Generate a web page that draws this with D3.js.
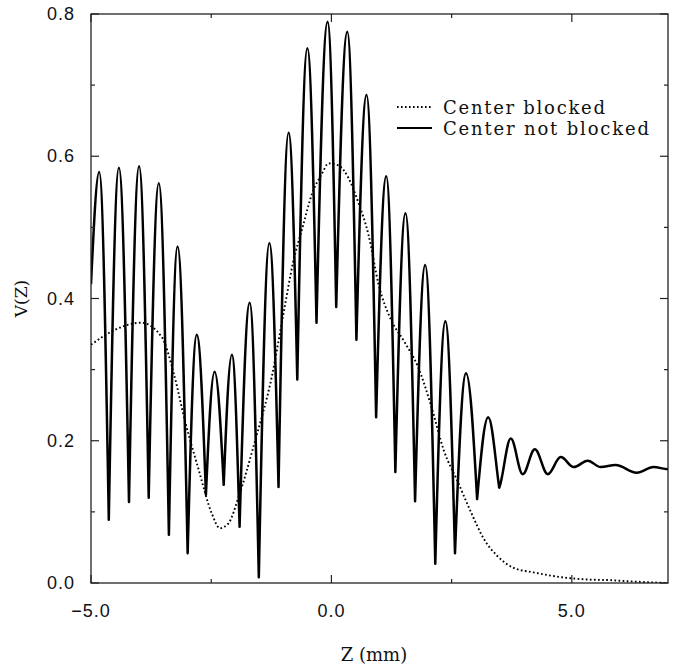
<!DOCTYPE html>
<html>
<head>
<meta charset="utf-8">
<script src="https://cdn.jsdelivr.net/npm/d3@7"></script>
<style>
  html, body { margin: 0; padding: 0; background: #fff; }
  svg { display: block; }
</style>
</head>
<body>
<svg id="chart" width="676" height="670"></svg>
<script>
// ---------------- data ----------------
// "Center not blocked" : extrema of V(z)
const solidZ = [-5.00, -4.83, -4.63, -4.42, -4.21, -4.00, -3.80, -3.59, -3.38, -3.20, -2.99,
  -2.80, -2.61, -2.43, -2.24, -2.07, -1.91, -1.70, -1.51, -1.29, -1.10, -0.89, -0.71, -0.50,
  -0.31, -0.08, 0.10, 0.33, 0.52, 0.73, 0.93, 1.14, 1.33, 1.54, 1.74, 1.95, 2.16, 2.37, 2.57,
  2.80, 3.03, 3.26, 3.49, 3.73, 3.98, 4.23, 4.50, 4.77, 5.04, 5.33, 5.60, 5.91, 6.35, 6.70, 7.00];
const solidV = [0.42, 0.578, 0.089, 0.584, 0.114, 0.586, 0.120, 0.562, 0.068, 0.473, 0.042,
  0.349, 0.124, 0.297, 0.138, 0.321, 0.079, 0.394, 0.008, 0.478, 0.135, 0.633, 0.286, 0.752,
  0.366, 0.789, 0.388, 0.775, 0.342, 0.686, 0.233, 0.572, 0.156, 0.520, 0.115, 0.447, 0.027, 0.368, 0.042,
  0.295, 0.118, 0.233, 0.134, 0.203, 0.153, 0.188, 0.153, 0.177, 0.163, 0.172, 0.163, 0.166, 0.155, 0.163, 0.160];

// "Center blocked"
const dottedZ = [-5.00, -4.50, -3.96, -3.53, -3.28, -3.05, -2.76, -2.49, -2.32, -2.14, -1.93,
  -1.60, -1.24, -0.98, -0.80, -0.60, -0.40, -0.20, -0.06, 0.15, 0.35, 0.56, 0.77, 0.98, 1.24,
  1.51, 1.80, 2.07, 2.34, 2.63, 2.90, 3.17, 3.45, 3.80, 4.20, 4.80, 5.30, 5.80, 6.30, 7.00];
const dottedV = [0.335, 0.356, 0.366, 0.346, 0.295, 0.229, 0.159, 0.098, 0.077, 0.084, 0.121,
  0.197, 0.290, 0.385, 0.450, 0.500, 0.548, 0.575, 0.590, 0.587, 0.570, 0.535, 0.490, 0.420, 0.370,
  0.340, 0.304, 0.250, 0.186, 0.142, 0.100, 0.062, 0.038, 0.021, 0.015, 0.008, 0.005, 0.004, 0.002, 0.000];

const xMajorTicks = [-5, 0, 5];
const xMinorTicks = [-2.5, 2.5];
const xTickLabels = ["\u22125.0", "0.0", "5.0"];
const yMajorTicks = [0, 0.2, 0.4, 0.6, 0.8];
const yMinorTicks = [0.1, 0.3, 0.5, 0.7];
const yTickLabels = ["0.0", "0.2", "0.4", "0.6", "0.8"];
const legendLabels = ["Center blocked", "Center not blocked"];
const xTitle = "Z (mm)";
const yTitle = "V(Z)";

// ---------------- layout ----------------
const svg = d3.select("#chart");
const L = 91, R = 668, T = 14, B = 583;
const x = d3.scaleLinear().domain([-5, 7]).range([L, R]);
const y = d3.scaleLinear().domain([0, 0.8]).range([B, T]);

// custom curve: sharp (|sin|-like) troughs, rounded peaks; sinusoidal for shallow oscillations
function peakCurve(context) {
  let pts = [];
  const base = y(0);
  return {
    areaStart() {}, areaEnd() {},
    lineStart() { pts = []; },
    point(px, py) { pts.push([+px, +py]); },
    lineEnd() {
      if (!pts.length) return;
      context.moveTo(pts[0][0], pts[0][1]);
      for (let i = 1; i < pts.length; i++) {
        const a = pts[i - 1], b = pts[i];
        const dx = b[0] - a[0], dy = b[1] - a[1];
        const rising = a[1] > b[1];
        const tr = rising ? a : b, pk = rising ? b : a;
        const ratio = (base - tr[1]) / Math.max(1, base - pk[1]);
        const t = Math.max(0, Math.min(1, (ratio - 0.5) / 0.25));
        const fx = 0.33 * (1 - t) + 0.3642 * t;
        const fy = 0.52 * (1 - t);
        const gx = 0.36 * (1 - t) + 0.3642 * t;
        if (i === 1) {
          context.bezierCurveTo(a[0] + dx * 0.3, a[1] + dy * 0.45, b[0] - dx * 0.36, b[1], b[0], b[1]);
        } else if (rising) {
          context.bezierCurveTo(a[0] + dx * fx, a[1] + dy * fy, b[0] - dx * gx, b[1], b[0], b[1]);
        } else {
          context.bezierCurveTo(a[0] + dx * gx, a[1], b[0] - dx * fx, b[1] - dy * fy, b[0], b[1]);
        }
      }
    }
  };
}

const solidData = solidZ.map((z, i) => ({ z, v: solidV[i] }));
const dottedData = dottedZ.map((z, i) => ({ z, v: dottedV[i] }));

const g = svg.append("g");
g.append("clipPath").attr("id", "clip").append("rect")
  .attr("x", L).attr("y", T - 2).attr("width", R - L).attr("height", B - T + 2);

// dotted curve
g.append("path")
  .datum(dottedData)
  .attr("clip-path", "url(#clip)")
  .attr("fill", "none").attr("stroke", "#000")
  .attr("stroke-width", 1.9)
  .attr("stroke-dasharray", "1.7 2.4")
  .attr("d", d3.line().x(d => x(d.z)).y(d => y(d.v)).curve(d3.curveMonotoneX));

// solid curve
g.append("path")
  .datum(solidData)
  .attr("clip-path", "url(#clip)")
  .attr("fill", "none").attr("stroke", "#000")
  .attr("stroke-width", 2.5)
  .attr("stroke-linejoin", "round")
  .attr("d", d3.line().x(d => x(d.z)).y(d => y(d.v)).curve(peakCurve));

// frame
g.append("rect").attr("x", L).attr("y", T).attr("width", R - L).attr("height", B - T)
  .attr("fill", "none").attr("stroke", "#222").attr("stroke-width", 1.3);

// ticks (inward, on all four sides)
const tk = g.append("g").attr("stroke", "#222").attr("stroke-width", 1.2);
xMajorTicks.forEach(v => {
  tk.append("line").attr("x1", x(v)).attr("x2", x(v)).attr("y1", B).attr("y2", B - 8);
  tk.append("line").attr("x1", x(v)).attr("x2", x(v)).attr("y1", T).attr("y2", T + 8);
});
xMinorTicks.forEach(v => {
  tk.append("line").attr("x1", x(v)).attr("x2", x(v)).attr("y1", B).attr("y2", B - 4);
  tk.append("line").attr("x1", x(v)).attr("x2", x(v)).attr("y1", T).attr("y2", T + 4);
});
yMajorTicks.forEach(v => {
  tk.append("line").attr("x1", L).attr("x2", L + 8).attr("y1", y(v)).attr("y2", y(v));
  tk.append("line").attr("x1", R).attr("x2", R - 8).attr("y1", y(v)).attr("y2", y(v));
});
yMinorTicks.forEach(v => {
  tk.append("line").attr("x1", L).attr("x2", L + 4).attr("y1", y(v)).attr("y2", y(v));
  tk.append("line").attr("x1", R).attr("x2", R - 4).attr("y1", y(v)).attr("y2", y(v));
});

// tick labels
const tickFont = "'Liberation Sans', Arial, sans-serif";
xMajorTicks.forEach((v, i) => {
  svg.append("text").attr("x", x(v)).attr("y", 617)
    .attr("text-anchor", "middle").attr("font-family", tickFont).attr("font-size", 18)
    .attr("letter-spacing", 1).attr("fill", "#111").text(xTickLabels[i]);
});
yMajorTicks.forEach((v, i) => {
  svg.append("text").attr("x", 75).attr("y", y(v) + 6)
    .attr("text-anchor", "end").attr("font-family", tickFont).attr("font-size", 18)
    .attr("letter-spacing", 1).attr("fill", "#111").text(yTickLabels[i]);
});

// axis titles
const serif = "'DejaVu Serif', 'Liberation Serif', serif";
svg.append("text").attr("x", 374).attr("y", 661)
  .attr("text-anchor", "middle").attr("font-family", serif).attr("font-size", 18)
  .attr("fill", "#111").text(xTitle);
svg.append("text").attr("transform", `translate(27,${(T + B) / 2}) rotate(-90)`)
  .attr("text-anchor", "middle").attr("font-family", serif).attr("font-size", 17)
  .attr("fill", "#111").text(yTitle);

// legend
const lg = svg.append("g");
const legY = [107, 128];
const legW = [162, 206];
lg.append("line").attr("x1", 397).attr("x2", 432).attr("y1", legY[0]).attr("y2", legY[0])
  .attr("stroke", "#000").attr("stroke-width", 1.8).attr("stroke-dasharray", "1.6 2.4");
lg.append("line").attr("x1", 397).attr("x2", 432).attr("y1", legY[1]).attr("y2", legY[1])
  .attr("stroke", "#000").attr("stroke-width", 2.2);
legendLabels.forEach((s, i) => {
  lg.append("text").attr("x", 443).attr("y", legY[i] + 7)
    .attr("font-family", serif).attr("font-size", 18)
    .attr("textLength", legW[i]).attr("lengthAdjust", "spacing")
    .attr("fill", "#111").text(s);
});
</script>
</body>
</html>
